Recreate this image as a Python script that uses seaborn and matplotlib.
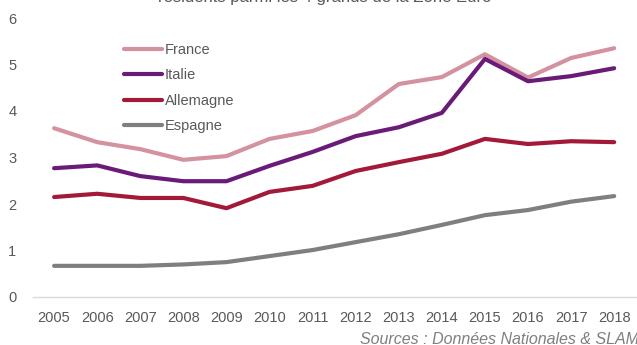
import matplotlib
matplotlib.use("Agg")
import matplotlib.pyplot as plt
import seaborn as sns
import pandas as pd

years = list(range(2005, 2019))
france = [3.63, 3.33, 3.18, 2.95, 3.03, 3.40, 3.57, 3.91, 4.58, 4.73, 5.22, 4.72, 5.14, 5.35]
italie = [2.77, 2.83, 2.60, 2.49, 2.49, 2.82, 3.12, 3.46, 3.65, 3.96, 5.12, 4.64, 4.75, 4.92]
allemagne = [2.15, 2.22, 2.13, 2.13, 1.91, 2.26, 2.39, 2.71, 2.90, 3.08, 3.40, 3.29, 3.35, 3.33]
espagne = [0.67, 0.67, 0.67, 0.70, 0.75, 0.88, 1.01, 1.18, 1.35, 1.55, 1.76, 1.87, 2.05, 2.17]
series_names = ["France", "Italie", "Allemagne", "Espagne"]
colors = ["#D4919F", "#6A1B78", "#A3193A", "#7F7F7F"]
title = "résidents parmi les 4 grands de la Zone Euro"
source = "Sources : Données Nationales & SLAM"

rows = []
for name, vals in zip(series_names, [france, italie, allemagne, espagne]):
    for y, v in zip(years, vals):
        rows.append({"Année": y, "Valeur": v, "Pays": name})
df = pd.DataFrame(rows)

sns.set_theme(style="white")
plt.rcParams["font.family"] = ["Liberation Sans", "DejaVu Sans"]

fig = plt.figure(figsize=(6.37, 3.45), dpi=100)
ax = fig.add_axes([33/637, 48/345, 604/637, 279/345])

sns.lineplot(data=df, x="Année", y="Valeur", hue="Pays", hue_order=series_names,
             palette=colors, linewidth=3, ax=ax, legend=True)

ax.set_xlim(2004.51, 2018.53)
ax.set_ylim(0, 6)
ax.set_xticks(years)
ax.set_xticklabels([str(y) for y in years])
ax.set_yticks(range(0, 7))
ax.set_xlabel("")
ax.set_ylabel("")
for s in ["left", "right", "top"]:
    ax.spines[s].set_visible(False)
ax.spines["bottom"].set_color("#D9D9D9")
ax.spines["bottom"].set_linewidth(1)
ax.tick_params(axis="both", colors="#595959", labelsize=10.5, length=0)
ax.tick_params(axis="x", pad=10)
ax.tick_params(axis="y", pad=12)

leg = ax.legend(loc="upper left", bbox_to_anchor=((124-33)/604, (297-43)/279),
                frameon=False, fontsize=10.5, handlelength=2.6, handletextpad=0.2,
                labelspacing=0.78, borderpad=0, borderaxespad=0)
for t in leg.get_texts():
    t.set_color("#595959")
for h in leg.get_lines():
    h.set_linewidth(3)

fig.text(0.51, (345-2)/345, title, ha="center", va="baseline", fontsize=12, color="#595959")
fig.text(639/637, 0.5/345, source, ha="right", va="baseline", fontsize=11.5,
         color="#7F7F7F", style="italic")

fig.savefig("out.png", dpi=100)
